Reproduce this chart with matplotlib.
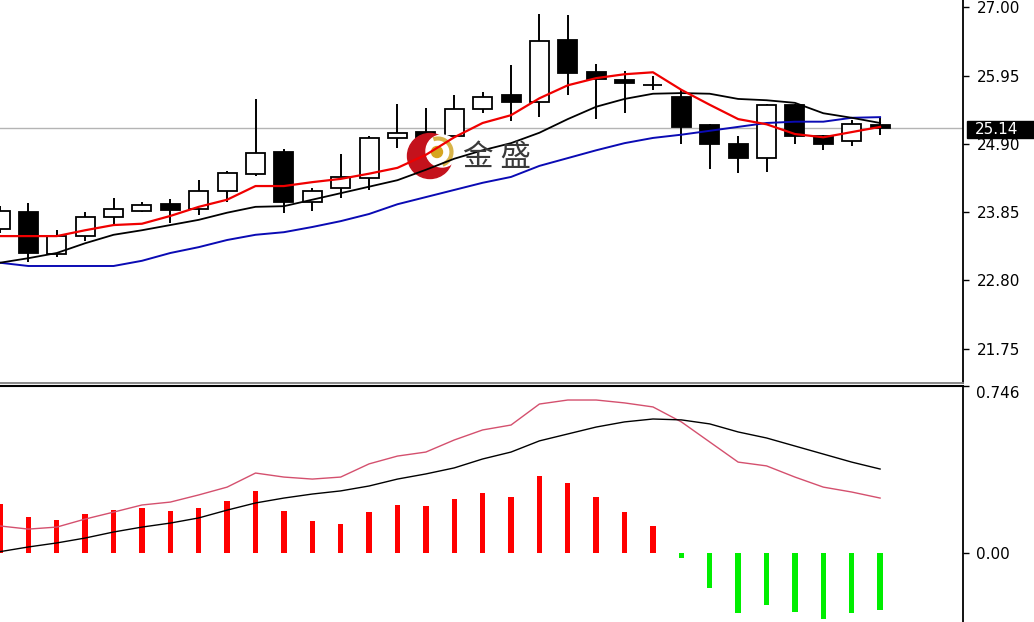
import matplotlib
matplotlib.use('Agg')
import matplotlib.pyplot as plt
from matplotlib.patches import Circle, Rectangle, Arc

# daily candles (oldest first)
opens = [23.59, 23.85, 23.21, 23.48, 23.77, 23.87, 23.98, 23.90, 24.18, 24.44, 24.77,
         24.00, 24.22, 24.37, 24.99, 25.08, 25.02, 25.43, 25.65, 25.54, 26.50, 26.00,
         25.88, 25.80, 25.62, 25.19, 24.90, 24.68, 25.50, 25.02, 24.94, 25.19]
highs = [23.94, 23.99, 23.57, 23.85, 24.07, 24.00, 24.05, 24.34, 24.48, 25.59, 24.82,
         24.22, 24.74, 25.02, 25.51, 25.45, 25.65, 25.70, 26.11, 26.90, 26.88, 26.13,
         26.02, 25.94, 25.73, 25.20, 25.02, 25.51, 25.51, 25.04, 25.27, 25.30]
lows = [23.52, 23.08, 23.16, 23.40, 23.67, 23.85, 23.68, 23.80, 24.00, 24.40, 23.84,
        23.87, 24.07, 24.19, 24.84, 24.86, 24.99, 25.37, 25.25, 25.31, 25.65, 25.28,
        25.37, 25.73, 24.90, 24.51, 24.45, 24.47, 24.90, 24.81, 24.87, 25.04]
closes = [23.87, 23.22, 23.48, 23.77, 23.90, 23.96, 23.88, 24.18, 24.45, 24.76, 24.00,
          24.17, 24.39, 24.99, 25.07, 24.98, 25.43, 25.62, 25.54, 26.48, 25.99, 25.89,
          25.83, 25.80, 25.16, 24.90, 24.68, 25.50, 25.02, 24.90, 25.20, 25.14]

# moving averages
ma_red = [23.48, 23.48, 23.48, 23.57, 23.65, 23.67, 23.79, 23.93, 24.04, 24.25, 24.25,
          24.31, 24.36, 24.44, 24.53, 24.73, 25.00, 25.22, 25.34, 25.60, 25.80, 25.91,
          25.97, 26.00, 25.73, 25.50, 25.28, 25.20, 25.05, 25.00, 25.08, 25.16]
ma_black = [23.07, 23.14, 23.22, 23.37, 23.50, 23.57, 23.65, 23.73, 23.84, 23.93, 23.94,
            24.04, 24.14, 24.24, 24.34, 24.50, 24.67, 24.80, 24.91, 25.07, 25.28, 25.47,
            25.59, 25.67, 25.68, 25.67, 25.59, 25.57, 25.53, 25.37, 25.30, 25.22]
ma_blue = [23.07, 23.02, 23.02, 23.02, 23.02, 23.10, 23.22, 23.31, 23.42, 23.50, 23.54,
           23.62, 23.71, 23.82, 23.97, 24.08, 24.19, 24.30, 24.39, 24.56, 24.68, 24.80,
           24.91, 24.99, 25.04, 25.10, 25.16, 25.22, 25.24, 25.24, 25.30, 25.31]

# MACD panel
macd_hist = [0.217, 0.160, 0.146, 0.172, 0.190, 0.201, 0.186, 0.201, 0.232, 0.277, 0.186,
             0.141, 0.128, 0.181, 0.214, 0.210, 0.241, 0.268, 0.250, 0.343, 0.310, 0.250,
             0.181, 0.119, -0.026, -0.158, -0.272, -0.235, -0.268, -0.299, -0.272, -0.258]
macd_pink = [0.119, 0.105, 0.114, 0.150, 0.181, 0.213, 0.226, 0.258, 0.293, 0.356, 0.338,
             0.329, 0.338, 0.397, 0.432, 0.450, 0.504, 0.549, 0.571, 0.665, 0.683, 0.683,
             0.670, 0.652, 0.585, 0.495, 0.405, 0.388, 0.338, 0.293, 0.271, 0.244]
macd_black = [0.004, 0.025, 0.043, 0.065, 0.092, 0.114, 0.132, 0.155, 0.190, 0.222, 0.244,
              0.262, 0.276, 0.298, 0.329, 0.352, 0.379, 0.419, 0.450, 0.500, 0.531, 0.562,
              0.585, 0.598, 0.594, 0.576, 0.540, 0.513, 0.477, 0.441, 0.405, 0.374]

price_ticks = [27.00, 25.95, 24.90, 23.85, 22.80, 21.75]
macd_ticks = [0.0, 0.746]
last_price = 25.14

W, H = 1034, 622
fig = plt.figure(figsize=(W / 100, H / 100), dpi=100)
fig.patch.set_facecolor('white')
plt.rcParams['font.family'] = ['DejaVu Sans']

def inch(x, y):
    # pixel position (from top left) -> inches for fig.dpi_scale_trans
    return x / 100, (H - y) / 100

x = list(range(len(opens)))
xlim = (0, 962.5 / 28.39)

# ---- price panel
ax = fig.add_axes([0, (H - 383) / H, 962.5 / W, 383 / H])
ax.set_xlim(*xlim)
ax.set_ylim(21.22, 27.112)

ax.axhline(last_price, color='#b4b4b4', lw=1, zorder=1)
ax.vlines(x, lows, highs, color='black', lw=1.4, zorder=2)
for i in x:
    o, c = opens[i], closes[i]
    face = 'white' if c > o else 'black'
    ax.bar(i, max(abs(c - o), 0.001), bottom=min(o, c), width=0.67,
           color=face, edgecolor='black', lw=1.3, zorder=3)

# watermark logo
tr = fig.dpi_scale_trans
ax.add_patch(Circle(inch(430, 156), 0.225, transform=tr, color='#c4121c', zorder=4, clip_on=False))
ax.add_patch(Circle(inch(442, 151), 0.16, transform=tr, color='white', zorder=4, clip_on=False))
ax.add_patch(Arc(inch(438, 152), 0.27, 0.27, theta1=-70, theta2=110, transform=tr,
                 color='#d8b44a', lw=3, zorder=4, clip_on=False))
ax.add_patch(Circle(inch(437, 152), 0.055, transform=tr, color='#d6a520', zorder=4, clip_on=False))
fig.text(463 / W, (H - 158) / H, '金 盛', family=['Noto Sans CJK SC', 'DejaVu Sans'],
         fontsize=22, color='#3a3a3a', va='center', ha='left', zorder=4)

ax.plot(x, ma_blue, color='#0a0ab4', lw=1.4, zorder=5)
ax.plot(x, ma_black, color='black', lw=1.3, zorder=5)
ax.plot(x, ma_red, color='#f00000', lw=1.6, zorder=6)

ax.yaxis.tick_right()
ax.set_yticks(price_ticks, [f'{t:.2f}' for t in price_ticks])
ax.tick_params(axis='y', length=4, width=1, pad=6, labelsize=11)
ax.set_xticks([])
ax.spines['left'].set_visible(False)
ax.spines['top'].set_visible(False)
ax.spines['right'].set_linewidth(1.3)
ax.spines['bottom'].set_color('#808080')
ax.spines['bottom'].set_linewidth(1.3)

# last price box on the price scale
fig.add_artist(Rectangle(inch(967, 137.5), 0.7, 0.16, transform=tr, color='black', zorder=10))
fig.text(975 / W, (H - 129.5) / H, f'{last_price:.2f}', color='white', fontsize=11,
         va='center', ha='left', zorder=11)

# ---- MACD panel
ax2 = fig.add_axes([0, 0, 962.5 / W, (H - 385.5) / H])
ax2.set_xlim(*xlim)
ax2.set_ylim(-0.311, 0.748)
bar_colors = ['#ff0000' if v >= 0 else '#00ee00' for v in macd_hist]
ax2.bar(x, macd_hist, width=0.19, color=bar_colors, zorder=2)
ax2.plot(x, macd_pink, color='#d4506e', lw=1, zorder=3)
ax2.plot(x, macd_black, color='black', lw=1, zorder=3)

ax2.yaxis.tick_right()
ax2.set_yticks(macd_ticks, ['0.00', '0.746'])
ax2.tick_params(axis='y', length=4, width=1, pad=6, labelsize=11)
ax2.get_yticklabels()[1].set_verticalalignment('top')
ax2.set_xticks([])
ax2.spines['left'].set_visible(False)
ax2.spines['bottom'].set_visible(False)
ax2.spines['right'].set_linewidth(1.3)
ax2.spines['top'].set_linewidth(1.5)

fig.savefig('out.png', dpi=100, facecolor='white')
